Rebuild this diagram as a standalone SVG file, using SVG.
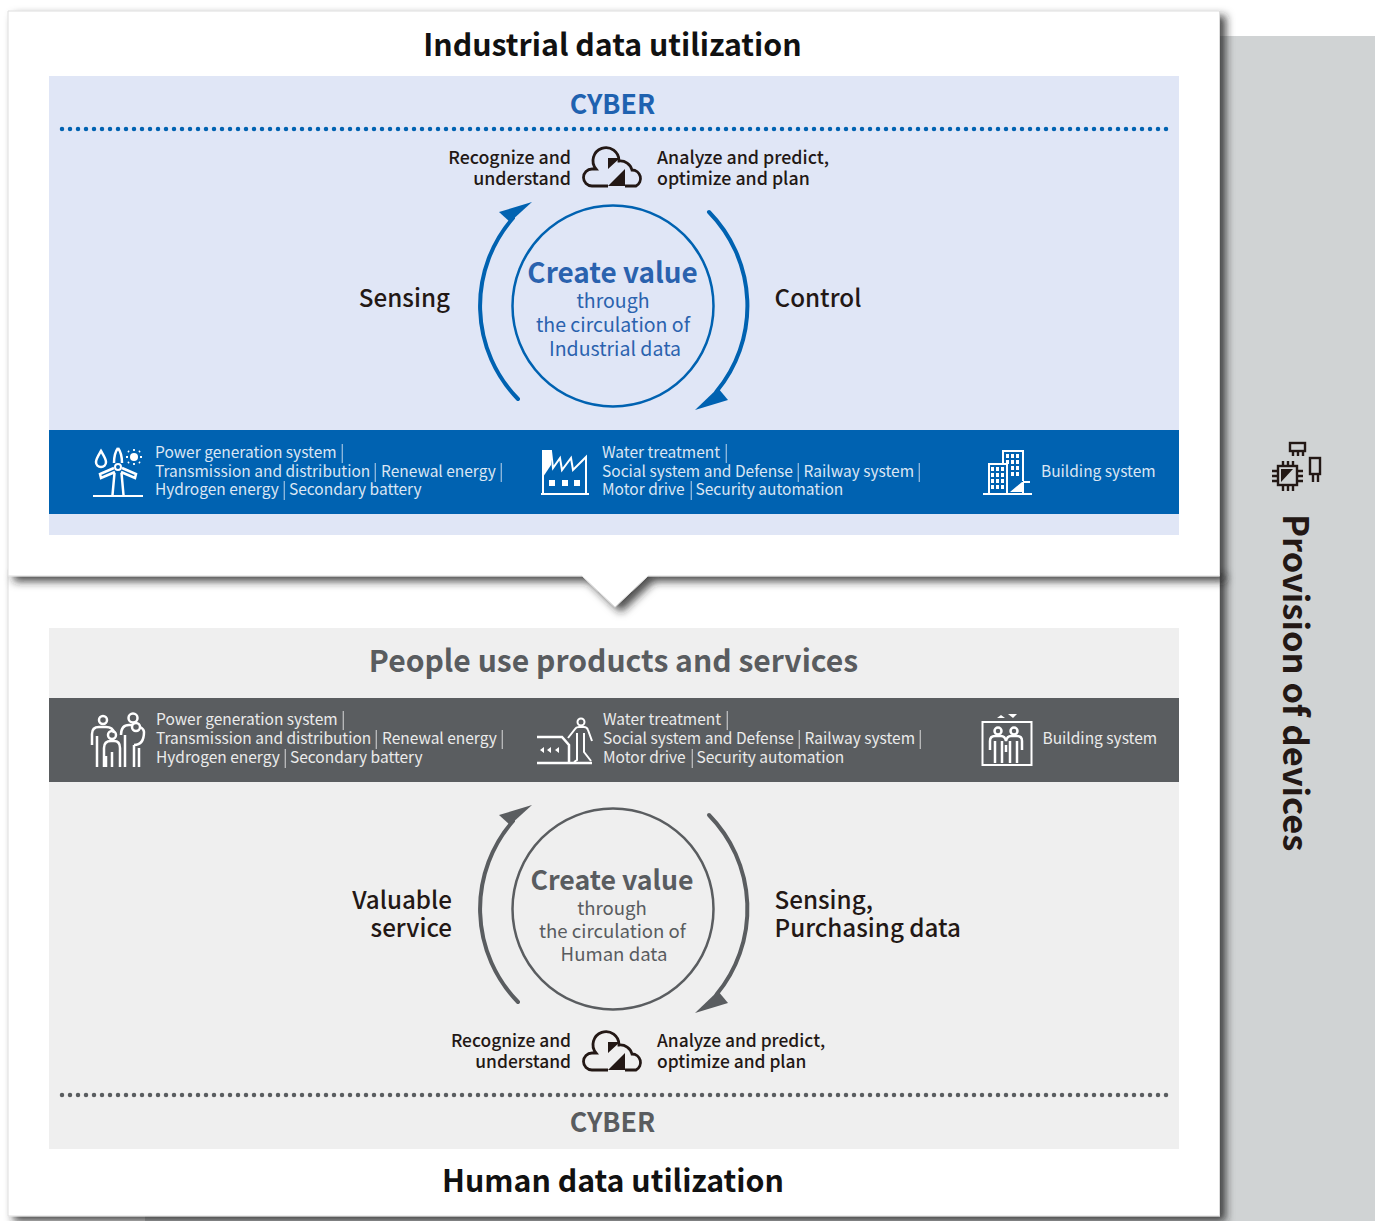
<svg xmlns="http://www.w3.org/2000/svg" width="1376" height="1221" viewBox="0 0 1376 1221">
<defs>
<style>
text{font-family:"Noto Sans CJK JP","Noto Sans",sans-serif}
.title{font-size:30.300px;font-weight:700;fill:#111;text-anchor:middle}
.cy{font-size:26.700px;font-weight:700;text-anchor:middle}
.lab{font-size:24.200px;font-weight:500;fill:#231815}
.sm{font-size:17.800px;font-weight:500;fill:#231815}
.sl{font-size:17.400px;font-weight:500;fill:#231815}
.bar{font-size:15.500px}
.bb{fill:#dbe6f4}
.bg{fill:#ebebeb}
.sep{opacity:.75;font-size:17px}
.w{fill:none;stroke:#fff;stroke-width:2}
.t{stroke-width:2.500}
.wf{fill:#fff}
.k{fill:none;stroke:#231815;stroke-width:2.400}
.kf{fill:#231815}
.end{text-anchor:end}
.mid{text-anchor:middle}
</style>
<filter id="sh" x="-5%" y="-5%" width="110%" height="110%">
<feDropShadow dx="6" dy="5" stdDeviation="4.500" flood-color="#222" flood-opacity=".8"/>
</filter>
<g id="cloud">
<path d="M608 186H592A8.500 8.500 0 0 1 592 169H596A13 13 0 1 1 619 161A12 12 0 0 1 632 170A8.500 8.500 0 0 1 636 186H625" fill="none" stroke="#231815" stroke-width="2.800"/>
<path class="kf" d="M608 186L625 186V169ZM608 158H620L608 169Z"/>
</g>
</defs>
<rect x="145" y="36" width="1230" height="1185" fill="#d0d3d4"/>
<g id="card-human">
<rect x="8" y="570" width="1211.500" height="646" fill="#fff" stroke="#ddd" filter="url(#sh)"/>
<rect x="49" y="628" width="1130" height="521" fill="#efefef"/>
<rect x="49" y="698" width="1130" height="84" fill="#5a5d60"/>
<text class="title" x="613" y="1192">Human data utilization</text>
<text class="title" x="613.500" y="672" style="fill:#595c5f;font-size:30.100px">People use products and services</text>
</g>
<g id="card-industrial">
<path d="M8 11H1219.500V576H648L615 607L582 576H8Z" fill="#fff" stroke="#ddd" filter="url(#sh)"/>
<rect x="49" y="76" width="1130" height="459" fill="#e0e6f6"/>
<rect x="49" y="430" width="1130" height="84" fill="#0062b1"/>
<text class="title" x="612.500" y="56">Industrial data utilization</text>
</g>
<g id="cyber-top">
<text class="cy" x="612.500" y="114" fill="#1f62b0">CYBER</text>
<line x1="62" y1="129" x2="1168" y2="129" stroke="#0062b1" stroke-width="4.500" stroke-linecap="round" stroke-dasharray="0 8"/>
</g>
<g id="cyber-bottom">
<text class="cy" x="612.500" y="1132" fill="#595c5f">CYBER</text>
<line x1="62" y1="1095" x2="1168" y2="1095" stroke="#5a5d60" stroke-width="4.500" stroke-linecap="round" stroke-dasharray="0 8"/>
</g>
<g id="connectors" fill="none" stroke-width="4" stroke-linecap="round">
<g stroke="#0062b1">
<path d="M518 399A133.500 133.500 0 0 1 513 218"/>
<path d="M709 212A134 134 0 0 1 716.500 391.500"/>
<polygon fill="#0062b1" stroke="none" points="499,212 532,202 510,222"/>
<polygon fill="#0062b1" stroke="none" points="695,410 728,400 718,388"/>
</g>
<g stroke="#5a5d60">
<path d="M518 1002A133.500 133.500 0 0 1 513 821"/>
<path d="M709 815A134 134 0 0 1 716.500 994.500"/>
<polygon fill="#5a5d60" stroke="none" points="499,815 532,805 510,825"/>
<polygon fill="#5a5d60" stroke="none" points="695,1013 728,1003 718,991"/>
</g>
</g>
<g id="value-industrial">
<circle cx="613" cy="306" r="100.500" fill="none" stroke="#0062b1" stroke-width="2.500"/>
<g class="mid" fill="#2a62ae">
<text x="612.500" y="283" font-size="27.900" font-weight="700">Create value</text>
<text x="613" y="308" font-size="19.500">through</text>
<text x="613" y="332" font-size="19.500">the circulation of</text>
<text x="615" y="356" font-size="19.500">Industrial data</text>
</g>
</g>
<g id="value-human">
<circle cx="613" cy="909" r="100.500" fill="none" stroke="#5a5d60" stroke-width="2.500"/>
<g class="mid" fill="#595c5f">
<text x="612" y="890" font-size="26.700" font-weight="700">Create value</text>
<text x="612" y="915" font-size="18.600">through</text>
<text x="612.500" y="938" font-size="18.600">the circulation of</text>
<text x="614" y="961" font-size="18.600">Human data</text>
</g>
</g>
<g id="label-sensing"><text class="lab end" x="450" y="307">Sensing</text></g>
<g id="label-control"><text class="lab" x="774.500" y="307">Control</text></g>
<g id="label-valuable"><text class="lab end" x="452" y="909">Valuable</text><text class="lab end" x="452" y="937">service</text></g>
<g id="label-purchasing"><text class="lab" x="774.500" y="909">Sensing,</text><text class="lab" x="774.500" y="937">Purchasing data</text></g>
<g id="cyber-actions-top">
<use href="#cloud"/>
<text class="sm end" x="571" y="164">Recognize and</text><text class="sm end" x="571" y="185">understand</text>
<text class="sm" x="657" y="164">Analyze and predict,</text><text class="sm" x="657" y="185">optimize and plan</text>
</g>
<g id="cyber-actions-bottom">
<use href="#cloud" y="884"/>
<text class="sl end" x="571" y="1047">Recognize and</text><text class="sl end" x="571" y="1068">understand</text>
<text class="sl" x="657" y="1047">Analyze and predict,</text><text class="sl" x="657" y="1068">optimize and plan</text>
</g>
<g id="sector-energy">
<path class="wf" d="M93 495h50v2H93z"/>
<path class="w t" d="M118 448C115 452 114 458 114 463M118 448C121 452 122 458 122 463M114 468L100 474L101 478L115 472M122 468L136 474L135 478L121 472M114.500 473L112.500 495M121.500 473L123.500 495"/>
<circle cx="118" cy="467" r="3" class="w"/>
<path class="w t" d="M101 451c-3 5-5 8-5 11a5 5 0 0 0 10 0c0-3-2-6-5-11z"/>
<circle class="wf" cx="134" cy="457" r="4"/>
<path d="M134 449v2M134 463v2M126 457h2M140 457h2M128 451l1 1M139 462l1 1M140 451l-1 1M129 462l-1 1" stroke="#fff" stroke-width="1.800"/>
<text class="bar bb" x="155" y="458">Power generation system<tspan class="sep" x="340">|</tspan></text>
<text class="bar bb" x="155" y="477">Transmission and distribution<tspan class="sep" x="373">|</tspan><tspan x="381">Renewal energy</tspan><tspan class="sep" x="499">|</tspan></text>
<text class="bar bb" x="155" y="495">Hydrogen energy<tspan class="sep" x="282">|</tspan><tspan x="289">Secondary battery</tspan></text>
</g>
<g id="sector-industry">
<path class="w" d="M543 493V451H551L553 468L560 458L562 470L571 458L573 470L586 457V493"/>
<path class="wf" d="M541 493h48v2h-48zM549 480h6v6h-6zM562 480h6v6h-6zM574 480h6v6h-6z"/>
<path class="wf" d="M543 451h8v14l-8 12z"/>
<text class="bar bb" x="602" y="458">Water treatment<tspan class="sep" x="724">|</tspan></text>
<text class="bar bb" x="602" y="477">Social system and Defense<tspan class="sep" x="796">|</tspan><tspan x="803.500">Railway system</tspan><tspan class="sep" x="917">|</tspan></text>
<text class="bar bb" x="602" y="495">Motor drive<tspan class="sep" x="689">|</tspan><tspan x="695.500">Security automation</tspan></text>
</g>
<g id="sector-building">
<path class="w" d="M1003 463V451H1023V481M1023 482H1030M1023 482V493M989 493V464H1007V493"/>
<path class="wf" d="M983 493h49v2h-49zM1010 492l12-10v10z"/>
<path class="wf" d="M1006 454h3v4h-3zM1011 454h3v4h-3zM1016 454h3v4h-3zM1006 460h3v4h-3zM1011 460h3v4h-3zM1016 460h3v4h-3zM1011 466h3v4h-3zM1016 466h3v4h-3zM1011 472h3v4h-3zM1016 472h3v4h-3zM991 467h3v4h-3zM996 467h3v4h-3zM1001 467h3v4h-3zM991 473h3v4h-3zM996 473h3v4h-3zM1001 473h3v4h-3zM991 479h3v4h-3zM996 479h3v4h-3zM1001 479h3v4h-3zM991 485h3v4h-3zM996 485h3v4h-3zM1001 485h3v4h-3z"/>
<text class="bar bb" x="1041" y="477">Building system</text>
</g>
<g id="people-energy">
<g class="w t">
<circle cx="103" cy="720" r="4"/><circle cx="112" cy="735" r="4"/><circle cx="133" cy="718" r="4.500"/><circle cx="136" cy="727" r="4"/>
<path d="M92 745V734Q92 727 99 727H106Q113 727 114 733M97 736V767M106 756V767"/>
<path d="M104 767V748Q104 741 111 741H114Q120 741 120 748V767M112 752V767"/>
<path d="M121 735Q121 725 129 725H132M125 735V767M134 745V767M139 748V767M134 745Q144 745 144 732Q144 729 140 727"/>
</g>
<text class="bar bg" x="156" y="725">Power generation system<tspan class="sep" x="341">|</tspan></text>
<text class="bar bg" x="156" y="744">Transmission and distribution<tspan class="sep" x="374">|</tspan><tspan x="382">Renewal energy</tspan><tspan class="sep" x="500">|</tspan></text>
<text class="bar bg" x="156" y="763">Hydrogen energy<tspan class="sep" x="283">|</tspan><tspan x="290">Secondary battery</tspan></text>
</g>
<g id="people-industry">
<path class="w t" d="M537 737H562L569 745V762M537 763H592"/>
<path class="wf" d="M544 747v6l-4-3zM551 747v6l-4-3zM559 747v6l-4-3z"/>
<circle class="w" cx="581" cy="722" r="3.500"/>
<path class="w" d="M568 738L575 729Q576 727 579 727H584Q587 727 588 730L592 741M577 733V760L574 762M584 733V752L591 761"/>
<text class="bar bg" x="603" y="725">Water treatment<tspan class="sep" x="725">|</tspan></text>
<text class="bar bg" x="603" y="744">Social system and Defense<tspan class="sep" x="797">|</tspan><tspan x="804.500">Railway system</tspan><tspan class="sep" x="918">|</tspan></text>
<text class="bar bg" x="603" y="763">Motor drive<tspan class="sep" x="690">|</tspan><tspan x="696.500">Security automation</tspan></text>
</g>
<g id="people-building">
<rect class="w" x="982.500" y="722" width="49" height="43"/>
<path class="wf" d="M997 718h8l-4-3zM1008 714h9l-4 4z"/>
<circle class="w t" cx="998" cy="731" r="3.500"/><circle class="w t" cx="1014" cy="731" r="3.500"/>
<path class="w t" d="M990 750V741Q990 736 995 736H1001Q1005 736 1006 741Q1007 736 1011 736H1017Q1022 736 1022 741V750M995 741V763M1002 741V763M1010 741V763M1017 741V763M1006 745V752"/>
<text class="bar bg" x="1042.500" y="744">Building system</text>
</g>
<g id="provision-devices">
<rect class="k" x="1278" y="466" width="19" height="19"/>
<path class="kf" d="M1281 469h12l-12 13z"/>
<path class="k" d="M1283 466v-5M1288 466v-5M1293 466v-5M1283 485v6M1288 485v6M1293 485v6M1278 471h-6M1278 476h-6M1278 481h-6M1297 471h6M1297 476h6M1297 481h6"/>
<rect class="k" x="1290" y="443" width="15" height="8"/>
<path class="k" d="M1293 451v5M1298 451v5M1303 451v5"/>
<rect class="k" x="1310" y="458" width="10" height="16"/>
<path class="k" d="M1313 474v8M1318 474v8"/>
<text transform="translate(1283 514) rotate(90)" font-size="34.500" font-weight="700" fill="#231815">Provision of devices</text>
</g>
</svg>
